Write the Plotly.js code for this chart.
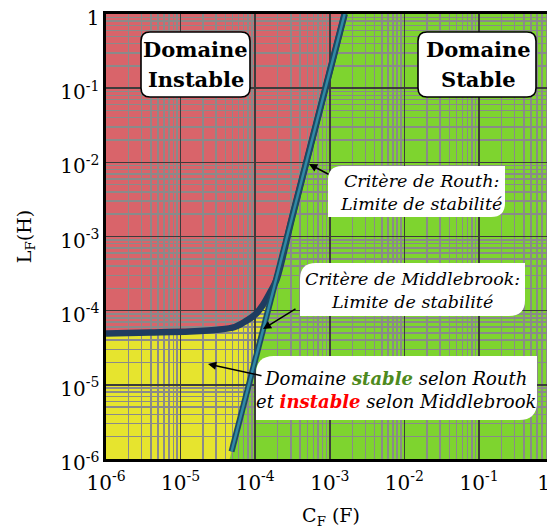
<!DOCTYPE html>
<html><head><meta charset="utf-8">
<script src="https://cdn.plot.ly/plotly-3.0.1.min.js"></script>
<style>html,body{margin:0;padding:0;overflow:hidden;background:#fff;width:547px;height:529px}</style>
</head><body><div id="chart"></div>
<script>
// ---- data ----
const xTickVals = [1e-6, 1e-5, 1e-4, 1e-3, 1e-2, 1e-1, 1];
const xTickText = ['10<sup>-6</sup>', '10<sup>-5</sup>', '10<sup>-4</sup>', '10<sup>-3</sup>', '10<sup>-2</sup>', '10<sup>-1</sup>', '1\u2002\u2002'];
const yTickVals = [1e-6, 1e-5, 1e-4, 1e-3, 1e-2, 1e-1, 1];
const yTickText = ['10<sup>-6</sup>', '10<sup>-5</sup>', '10<sup>-4</sup>', '10<sup>-3</sup>', '10<sup>-2</sup>', '10<sup>-1</sup>', '1'];

// Routh stability limit (straight line in log-log)
const routhC = [4.82e-5, 1.58e-3];
const routhL = [1.26e-6, 1];

// Middlebrook stability limit
const middlebrookC = [1e-6, 3.88e-6, 1.33e-5, 3.36e-5, 5.33e-5, 7.26e-5, 9.89e-5, 1.265e-4, 1.567e-4, 1.945e-4, 3.16e-4, 1.58e-3];
const middlebrookL = [4.92e-5, 5.08e-5, 5.24e-5, 5.57e-5, 6.03e-5, 7.1e-5, 8.75e-5, 1.19e-4, 1.73e-4, 2.67e-4, 1.9e-3, 1];
const junctionIndex = 9;

const xMin = 1e-6, yMin = 1e-6, yMax = 1;

// ---- colours ----
const RED = '#D9646A', GREEN = '#7ED42F', YELLOW = '#E6E42E';

// ---- helpers ----
const f = v => v.toFixed(14);
function minorVals(d0, d1) {
  const out = [];
  for (let d = d0; d < d1; d++) for (let k = 2; k <= 9; k++) out.push(k * Math.pow(10, d));
  return out;
}
// region fills (data coords)
let red = `M ${f(xMin)} ${f(yMax)} L ${f(routhC[1])} ${f(yMax)}`;
for (let i = middlebrookC.length - 1; i >= 0; i--) red += ` L ${f(middlebrookC[i])} ${f(middlebrookL[i])}`;
red += ' Z';
const lc0 = Math.log10(routhC[0]), ll0 = Math.log10(routhL[0]);
const slope = (Math.log10(routhL[1]) - ll0) / (Math.log10(routhC[1]) - lc0);
const routhBottomC = Math.pow(10, lc0 + (Math.log10(yMin) - ll0) / slope);
let yel = `M ${f(middlebrookC[0])} ${f(middlebrookL[0])}`;
for (let i = 1; i <= junctionIndex; i++) yel += ` L ${f(middlebrookC[i])} ${f(middlebrookL[i])}`;
yel += ` L ${f(routhBottomC)} ${f(yMin)} L ${f(xMin)} ${f(yMin)} Z`;

// pixel -> paper helpers for annotation boxes
const PL = 106, PW = 450, PB = 459, PH = 445;
const px = x => (x - PL) / PW, py = y => (PB - y) / PH;
function box(x0, y0, x1, y1, rTL, rTR, rBR, rBL) {
  const P = (x, y) => `${px(x).toFixed(5)} ${py(y).toFixed(5)}`;
  let p = `M ${P(x0 + rTL, y0)} L ${P(x1 - rTR, y0)}`;
  if (rTR) p += ` Q ${P(x1, y0)} ${P(x1, y0 + rTR)}`;
  p += ` L ${P(x1, y1 - rBR)}`;
  if (rBR) p += ` Q ${P(x1, y1)} ${P(x1 - rBR, y1)}`;
  p += ` L ${P(x0 + rBL, y1)}`;
  if (rBL) p += ` Q ${P(x0, y1)} ${P(x0, y1 - rBL)}`;
  p += ` L ${P(x0, y0 + rTL)}`;
  if (rTL) p += ` Q ${P(x0, y0)} ${P(x0 + rTL, y0)}`;
  return p + ' Z';
}

const FONT = 'DejaVu Serif';
const traces = [
  {x: middlebrookC, y: middlebrookL, mode: 'lines', line: {color: '#1f3c60', width: 6.5, shape: 'spline', smoothing: 0.8}},
  {x: routhC, y: routhL, mode: 'lines', line: {color: '#1b4a62', width: 6}},
  {x: routhC, y: routhL, mode: 'lines', line: {color: '#3189a5', width: 2.5}}
];

const shapes = [
  {type: 'path', xref: 'x', yref: 'y', layer: 'below', path: red, fillcolor: RED, line: {width: 0}},
  {type: 'path', xref: 'x', yref: 'y', layer: 'below', path: yel, fillcolor: YELLOW, line: {width: 0}},
  {type: 'path', xref: 'paper', yref: 'paper', layer: 'above', path: box(141, 32, 250, 97, 9, 9, 9, 9), fillcolor: '#fff', line: {color: '#000', width: 1.6}},
  {type: 'path', xref: 'paper', yref: 'paper', layer: 'above', path: box(418, 32, 536, 97, 9, 9, 9, 9), fillcolor: '#fff', line: {color: '#000', width: 1.6}},
  {type: 'path', xref: 'paper', yref: 'paper', layer: 'above', path: box(328, 166, 505, 217, 14, 0, 14, 0), fillcolor: '#fff', line: {width: 0}},
  {type: 'path', xref: 'paper', yref: 'paper', layer: 'above', path: box(300, 263, 525, 316, 16, 0, 16, 0), fillcolor: '#fff', line: {width: 0}},
  {type: 'path', xref: 'paper', yref: 'paper', layer: 'above', path: box(256, 356, 537, 420, 18, 0, 18, 0), fillcolor: '#fff', line: {width: 0}}
];

const tA = (text, x, y, size, extra) => Object.assign({xref: 'paper', yref: 'paper', x: px(x), y: py(y), text, showarrow: false,
  xanchor: 'center', yanchor: 'middle', font: {family: FONT, size, color: '#000'}}, extra || {});
const arrow = (hx, hy, tx, ty) => ({xref: 'paper', yref: 'paper', x: px(hx), y: py(hy), ax: tx - hx, ay: ty - hy, text: '',
  showarrow: true, arrowhead: 2, arrowsize: 1.1, arrowwidth: 1.5, arrowcolor: '#000', standoff: 0, startstandoff: 0});

const annotations = [
  tA('<b>Domaine</b>', 195.5, 50, 21),
  tA('<b>Instable</b>', 195.5, 79, 21),
  tA('<b>Domaine</b>', 478, 50, 21),
  tA('<b>Stable</b>', 478, 79, 21),
  tA('<i>Critère de Routh:<br>Limite de stabilité</i>', 421, 192, 17.5),
  tA('<i>Critère de Middlebrook:<br>Limite de stabilité</i>', 412, 291, 17.5),
  tA('<i>Domaine <b><span style="color:#4E8A1E">stable</span></b> selon Routh<br>et <b><span style="color:#FF0000">instable</span></b> selon Middlebrook</i>', 396, 390, 18),
  arrow(309, 164, 330, 175),
  arrow(263, 329, 297, 308),
  arrow(208, 364, 263, 376)
];

const axisCommon = {
  type: 'log', tickmode: 'array', showgrid: true, gridcolor: '#3c3c3c', gridwidth: 1.6,
  showline: true, linecolor: '#000', linewidth: 2.6, mirror: true, ticks: '', zeroline: false,
  tickfont: {family: FONT, size: 20, color: '#000'}
};
const layout = {
  width: 600, height: 529,
  margin: {l: PL, r: 600 - PL - PW, t: 14, b: 529 - PB},
  paper_bgcolor: '#fff', plot_bgcolor: GREEN,
  showlegend: false, hovermode: false,
  xaxis: Object.assign({}, axisCommon, {
    range: [-6, -6 + PW / 74.6], tickvals: xTickVals, ticktext: xTickText, ticklabelstandoff: 4,
    minor: {tickvals: minorVals(-6, 0), showgrid: true, gridcolor: '#8a8a8a', gridwidth: 1.5, ticks: ''},
    title: {text: 'C<sub>F</sub> (F)', font: {family: FONT, size: 19, color: '#000'}, standoff: 15}
  }),
  yaxis: Object.assign({}, axisCommon, {
    range: [-6, 0], tickvals: yTickVals, ticktext: yTickText, ticklabelstandoff: 0, ticklabelshift: 4,
    minor: {tickvals: minorVals(-6, 0), showgrid: true, gridcolor: '#8a8a8a', gridwidth: 1.5, ticks: ''},
    title: {text: 'L<sub>F</sub>(H)', font: {family: FONT, size: 19, color: '#000'}, standoff: 24}
  }),
  shapes, annotations
};
Plotly.newPlot('chart', traces, layout, {staticPlot: true, displayModeBar: false});
</script>
</body></html>
